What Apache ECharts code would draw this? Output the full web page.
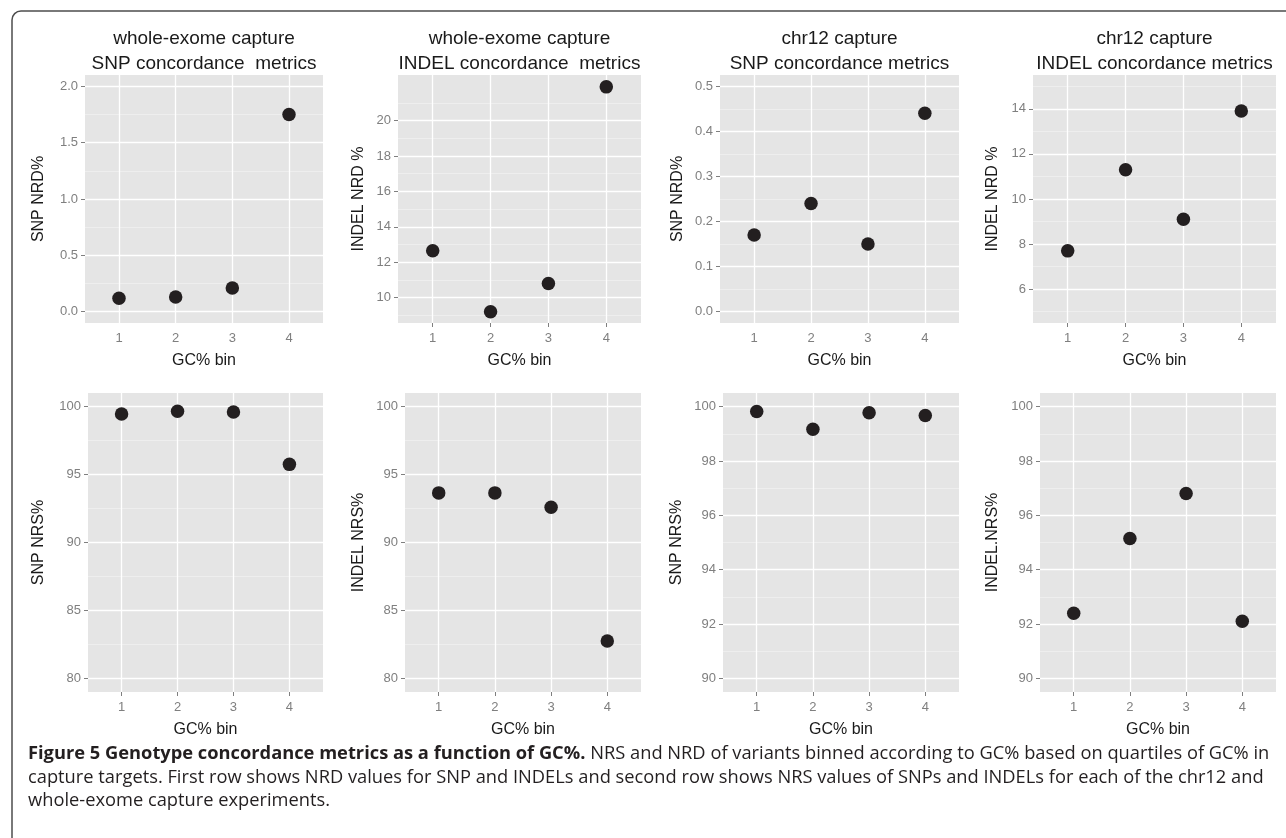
<!DOCTYPE html>
<html>
<head>
<meta charset="utf-8">
<script src="https://cdn.jsdelivr.net/npm/echarts@6/dist/echarts.min.js"></script>
<style>
html, body { margin: 0; padding: 0; background: #ffffff; }
#chart { width: 1286px; height: 838px; }
</style>
</head>
<body>
<div id="chart"></div>
<script>
// ---------- data ----------
const bins = [1, 2, 3, 4];
const binTicks = [1, 2, 3, 4];

const wholeExomeSnpNrd   = [0.12, 0.13, 0.21, 1.75];
const wholeExomeIndelNrd = [12.65, 9.2, 10.8, 21.9];
const chr12SnpNrd        = [0.17, 0.24, 0.15, 0.44];
const chr12IndelNrd      = [7.7, 11.3, 9.1, 13.9];
const wholeExomeSnpNrs   = [99.45, 99.65, 99.6, 95.75];
const wholeExomeIndelNrs = [93.65, 93.65, 92.6, 82.75];
const chr12SnpNrs        = [99.82, 99.17, 99.77, 99.67];
const chr12IndelNrs      = [92.4, 95.15, 96.8, 92.1];

// tick labels (major breaks) and minor breaks
const weSnpNrdTicks      = [0, 0.5, 1, 1.5, 2];
const weSnpNrdMinor      = [0.25, 0.75, 1.25, 1.75];
const weIndelNrdTicks    = [10, 12, 14, 16, 18, 20];
const weIndelNrdMinor    = [9, 11, 13, 15, 17, 19, 21];
const chrSnpNrdTicks     = [0, 0.1, 0.2, 0.3, 0.4, 0.5];
const chrSnpNrdMinor     = [0.05, 0.15, 0.25, 0.35, 0.45];
const chrIndelNrdTicks   = [6, 8, 10, 12, 14];
const chrIndelNrdMinor   = [5, 7, 9, 11, 13, 15];
const weNrsTicks         = [80, 85, 90, 95, 100];
const weNrsMinor         = [82.5, 87.5, 92.5, 97.5];
const chrNrsTicks        = [90, 92, 94, 96, 98, 100];
const chrNrsMinor        = [91, 93, 95, 97, 99];

const xAxisTitle = 'GC% bin';
const captionBold = 'Figure 5 Genotype concordance metrics as a function of GC%.';
const captionRest1 = ' NRS and NRD of variants binned according to GC% based on quartiles of GC% in';
const captionLine2 = 'capture targets. First row shows NRD values for SNP and INDELs and second row shows NRS values of SNPs and INDELs for each of the chr12 and';
const captionLine3 = 'whole-exome capture experiments.';

// ---------- layout ----------
const panels = [
  { title: 'whole-exome capture\nSNP concordance  metrics', yName: 'SNP NRD%', values: wholeExomeSnpNrd,
    ticks: weSnpNrdTicks, minor: weSnpNrdMinor, range: [-0.1, 2.1], dec: 1, rect: [85, 75, 238, 248], yGap: 38 },
  { title: 'whole-exome capture\nINDEL concordance  metrics', yName: 'INDEL NRD %', values: wholeExomeIndelNrd,
    ticks: weIndelNrdTicks, minor: weIndelNrdMinor, range: [8.57, 22.57], dec: 0, rect: [398, 75, 243, 248], yGap: 31 },
  { title: 'chr12 capture\nSNP concordance metrics', yName: 'SNP NRD%', values: chr12SnpNrd,
    ticks: chrSnpNrdTicks, minor: chrSnpNrdMinor, range: [-0.025, 0.525], dec: 1, rect: [720, 75, 239, 248], yGap: 34 },
  { title: 'chr12 capture\nINDEL concordance metrics', yName: 'INDEL NRD %', values: chr12IndelNrd,
    ticks: chrIndelNrdTicks, minor: chrIndelNrdMinor, range: [4.5, 15.5], dec: 0, rect: [1033, 75, 243, 248], yGap: 32 },
  { title: null, yName: 'SNP NRS%', values: wholeExomeSnpNrs,
    ticks: weNrsTicks, minor: weNrsMinor, range: [79, 101], dec: 0, rect: [88, 393, 235, 299], yGap: 41 },
  { title: null, yName: 'INDEL NRS%', values: wholeExomeIndelNrs,
    ticks: weNrsTicks, minor: weNrsMinor, range: [79, 101], dec: 0, rect: [405, 393, 236, 299], yGap: 38 },
  { title: null, yName: 'SNP NRS%', values: chr12SnpNrs,
    ticks: chrNrsTicks, minor: chrNrsMinor, range: [89.5, 100.5], dec: 0, rect: [723, 393, 236, 299], yGap: 38 },
  { title: null, yName: 'INDEL.NRS%', values: chr12IndelNrs,
    ticks: chrNrsTicks, minor: chrNrsMinor, range: [89.5, 100.5], dec: 0, rect: [1040, 393, 236, 299], yGap: 39 }
];

const FONT = '"Liberation Sans", Arial, Helvetica, sans-serif';
const TICK_COLOR = '#7f7f7f';
const majorStyle = { color: '#ffffff', width: 1.3, type: 'solid', opacity: 1 };
const minorStyle = { color: '#f2f2f2', width: 0.7, type: 'solid', opacity: 1 };

const grid = [], xAxis = [], yAxis = [], series = [], graphic = [];

panels.forEach((p, i) => {
  const [left, top, width, height] = p.rect;
  grid.push({ left, top, width, height, show: true, backgroundColor: '#e5e5e5', borderWidth: 0, containLabel: false });
  xAxis.push({
    gridIndex: i, type: 'value', min: 0.4, max: 4.6,
    name: xAxisTitle, nameLocation: 'middle', nameGap: 30,
    nameTextStyle: { fontFamily: FONT, fontSize: 16, color: '#1a1a1a' },
    axisLine: { show: false },
    axisTick: { show: true, length: 4, lineStyle: { color: TICK_COLOR, width: 1 }, customValues: binTicks },
    axisLabel: { customValues: binTicks, color: TICK_COLOR, fontSize: 13, fontFamily: FONT, margin: 8.5 },
    splitLine: { show: false }, minorSplitLine: { show: false }
  });
  yAxis.push({
    gridIndex: i, type: 'value', min: p.range[0], max: p.range[1],
    name: p.yName, nameLocation: 'middle', nameGap: p.yGap,
    nameTextStyle: { fontFamily: FONT, fontSize: 16, color: '#1a1a1a' },
    axisLine: { show: false },
    axisTick: { show: true, length: 4, lineStyle: { color: TICK_COLOR, width: 1 }, customValues: p.ticks },
    axisLabel: { customValues: p.ticks, color: TICK_COLOR, fontSize: 13, fontFamily: FONT, margin: 7,
      formatter: v => Number(v).toFixed(p.dec) },
    splitLine: { show: false }, minorSplitLine: { show: false }
  });
  const gridLines = [];
  p.minor.forEach(v => gridLines.push({ yAxis: v, lineStyle: minorStyle }));
  p.ticks.forEach(v => gridLines.push({ yAxis: v, lineStyle: majorStyle }));
  binTicks.forEach(v => gridLines.push({ xAxis: v, lineStyle: majorStyle }));
  series.push({
    type: 'scatter', xAxisIndex: i, yAxisIndex: i, z: 3,
    data: bins.map((b, k) => [b, p.values[k]]),
    symbol: 'circle', symbolSize: 13.5,
    itemStyle: { color: '#231f20', opacity: 1 },
    emphasis: { disabled: true },
    markLine: {
      silent: true, z: 1, animation: false, symbol: ['none', 'none'],
      label: { show: false }, lineStyle: { type: 'solid' },
      emphasis: { disabled: true },
      data: gridLines
    }
  });
  if (p.title) {
    graphic.push({
      type: 'text', x: left + width / 2, y: 26, silent: true,
      style: { text: p.title, align: 'center', textAlign: 'center', verticalAlign: 'top', textVerticalAlign: 'top',
        fontSize: 19, fontFamily: FONT, lineHeight: 25, fill: '#1a1a1a' }
    });
  }
});

// caption: fit font size to the reference line width
const CAP_FAMILY = '"Open Sans", "Noto Sans", sans-serif';
const ctx = document.createElement('canvas').getContext('2d');
function textWidth(t, font) { ctx.font = font; return ctx.measureText(t).width; }
const baseSize = 17;
const w1 = textWidth(captionBold, 'bold ' + baseSize + 'px ' + CAP_FAMILY) + textWidth(captionRest1, baseSize + 'px ' + CAP_FAMILY);
const capSize = Math.max(13, Math.min(19, baseSize * 1242 / w1));
const capLH = 23.5;

graphic.push({
  type: 'text', x: 28, y: 754 - capLH / 2, silent: true,
  style: {
    text: '{b|' + captionBold + '}' + captionRest1 + '\n' + captionLine2 + '\n' + captionLine3,
    rich: { b: { fontWeight: 'bold', fontSize: capSize, fontFamily: CAP_FAMILY, lineHeight: capLH, fill: '#231f20' } },
    fontSize: capSize, fontFamily: CAP_FAMILY, lineHeight: capLH, fill: '#231f20',
    align: 'left', verticalAlign: 'top'
  }
});

// outer rounded frame (cropped at right and bottom like the reference)
graphic.push({
  type: 'rect', silent: true, z: -1,
  shape: { x: 12, y: 11, width: 1320, height: 900, r: 9 },
  style: { fill: 'none', stroke: '#4d4d4d', lineWidth: 1.5 }
});

const chart = echarts.init(document.getElementById('chart'), null, { renderer: 'canvas' });
chart.setOption({
  animation: false,
  backgroundColor: '#ffffff',
  textStyle: { fontFamily: FONT },
  grid, xAxis, yAxis, series, graphic
});
</script>
</body>
</html>
